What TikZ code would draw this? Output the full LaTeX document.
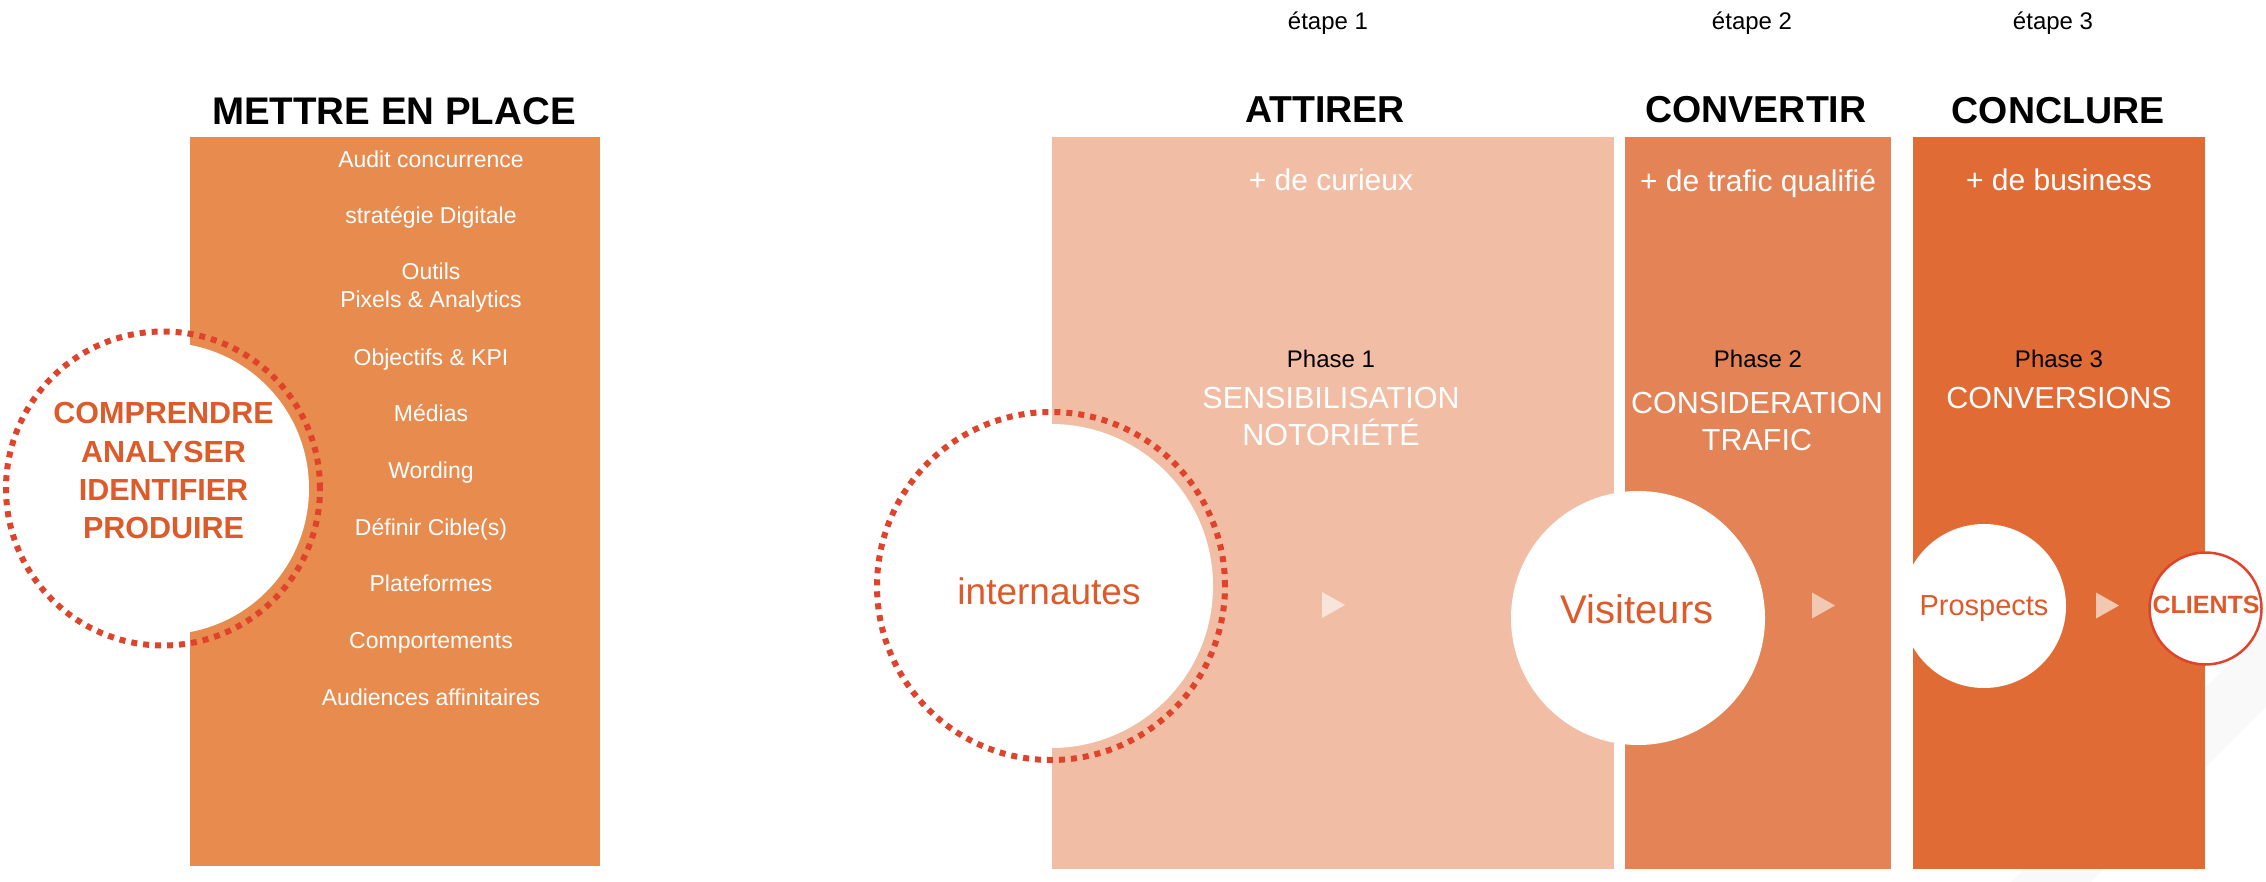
\documentclass[tikz,border=0pt]{standalone}
\usepackage{fontspec}
\setmainfont{Liberation Sans}
\definecolor{setupbox}{HTML}{E88B4F}
\definecolor{colA}{HTML}{F1BEA5}
\definecolor{colB}{HTML}{E38356}
\definecolor{colC}{HTML}{E06B35}
\definecolor{redtxt}{HTML}{DD5A2B}
\definecolor{dotred}{HTML}{E0432B}
\definecolor{tipA}{HTML}{F8E4DA}
\definecolor{tipB}{HTML}{F3C8B3}
\definecolor{haze}{HTML}{F9F9F9}
\newcommand\fsz[1]{\fontsize{#1}{#1}\selectfont}
\begin{document}
\begin{tikzpicture}[x=1pt,y=-1pt,
  lbl/.style={anchor=base,inner sep=0pt},
  listtxt/.style={lbl,text=white,font=\fsz{23}},
  headtxt/.style={lbl,text=black,font=\bfseries\fsz{37.5}},
  steptxt/.style={lbl,text=black,font=\fsz{24}},
  moretxt/.style={lbl,text=white,font=\fsz{30}},
  phasetxt/.style={lbl,text=black,font=\fsz{24}},
  phasename/.style={lbl,text=white,font=\fsz{30.5}},
  verbtxt/.style={lbl,text=redtxt,font=\bfseries\fsz{30.5}},
  dotring/.style={draw=dotred,line width=6pt,dash pattern=on 6pt off 6pt},
  tip/.style={inner sep=0pt}]
\useasboundingbox (0,0) rectangle (2266,882);

% faint diagonal band in the lower right corner
\fill[haze] (2011,882) -- (2266,627) -- (2266,707) -- (2091,882) -- cycle;

% ---------- column backgrounds ----------
\fill[setupbox] (190,137) rectangle (600,866);
\fill[colA] (1052,137) rectangle (1614,869);
\fill[colB] (1625,137) rectangle (1891,869);
\fill[colC] (1913,137) rectangle (2205,869);

% ---------- left block ----------
\node[headtxt,font=\bfseries\fsz{38.5}] (setup) at (394,125) {METTRE EN PLACE};
\node[listtxt] (l1) at (431,167.5) {Audit concurrence};
\node[listtxt] (l2) at (431,224) {stratégie Digitale};
\node[listtxt] (l3) at (431,280) {Outils};
\node[listtxt] (l4) at (431,308) {Pixels \& Analytics};
\node[listtxt] (l5) at (431,365.5) {Objectifs \& KPI};
\node[listtxt] (l6) at (431,421.5) {Médias};
\node[listtxt] (l7) at (431,478.5) {Wording};
\node[listtxt] (l8) at (431,535.5) {Définir Cible(s)};
\node[listtxt] (l9) at (431,591.5) {Plateformes};
\node[listtxt] (l10) at (431,648.5) {Comportements};
\node[listtxt] (l11) at (431,705) {Audiences affinitaires};

\fill[white] (163,488.5) circle[radius=146pt];
\draw[dotring] (163,488.5) circle[radius=157pt];
\node[verbtxt] (v1) at (163.5,423) {COMPRENDRE};
\node[verbtxt] (v2) at (163.5,462) {ANALYSER};
\node[verbtxt] (v3) at (163.5,500) {IDENTIFIER};
\node[verbtxt] (v4) at (163.5,538) {PRODUIRE};

% ---------- step headers ----------
\node[steptxt] (s1) at (1328,30) {étape 1};
\node[steptxt] (s2) at (1752,30) {étape 2};
\node[steptxt] (s3) at (2053,30) {étape 3};
\node[headtxt] (h1) at (1325,123) {ATTIRER};
\node[headtxt] (h2) at (1756,123) {CONVERTIR};
\node[headtxt] (h3) at (2058,124) {CONCLURE};

\node[moretxt] (m1) at (1331,191) {+ de curieux};
\node[moretxt] (m2) at (1758,192) {+ de trafic qualifié};
\node[moretxt] (m3) at (2059,191) {+ de business};

\node[phasetxt] (p1) at (1331,367) {Phase 1};
\node[phasetxt] (p2) at (1758,367) {Phase 2};
\node[phasetxt] (p3) at (2059,367) {Phase 3};

\node[phasename] (n1a) at (1331,408) {SENSIBILISATION};
\node[phasename] (n1b) at (1331,445) {NOTORIÉTÉ};
\node[phasename] (n2a) at (1757,413) {CONSIDERATION};
\node[phasename] (n2b) at (1757,450) {TRAFIC};
\node[phasename] (n3a) at (2059,408) {CONVERSIONS};

% ---------- funnel circles ----------
\fill[white] (1051,586) circle[radius=162pt];
\draw[dotring] (1051,586) circle[radius=174pt];
\fill[white] (1638,618) circle[radius=127pt];
\fill[white] (1984,606) circle[radius=82pt];
\draw[dotred,line width=2.5pt,fill=white] (2205.5,608.5) circle[radius=56pt];

\node[lbl,text=redtxt,font=\fsz{37}] (web) at (1049,604) {internautes};
\node[lbl,text=redtxt,font=\fsz{40}] (vis) at (1637,623) {Visiteurs};
\node[lbl,text=redtxt,font=\fsz{29}] (pro) at (1984,615) {Prospects};
\node[lbl,text=redtxt,font=\bfseries\fsz{25}] (cli) at (2206,613) {CLIENTS};

% ---------- small direction tips ----------
\coordinate (t1) at (1333.5,605);
\coordinate (t2) at (1823.5,605.5);
\coordinate (t3) at (2107.5,605.5);
\fill[tipA,shift={(t1)}] (-11.5,-13) -- (11.5,0) -- (-11.5,13) -- cycle;
\fill[tipB,shift={(t2)}] (-11.5,-13) -- (11.5,0) -- (-11.5,13) -- cycle;
\fill[tipB,shift={(t3)}] (-11.5,-13) -- (11.5,0) -- (-11.5,13) -- cycle;
\end{tikzpicture}
\end{document}
